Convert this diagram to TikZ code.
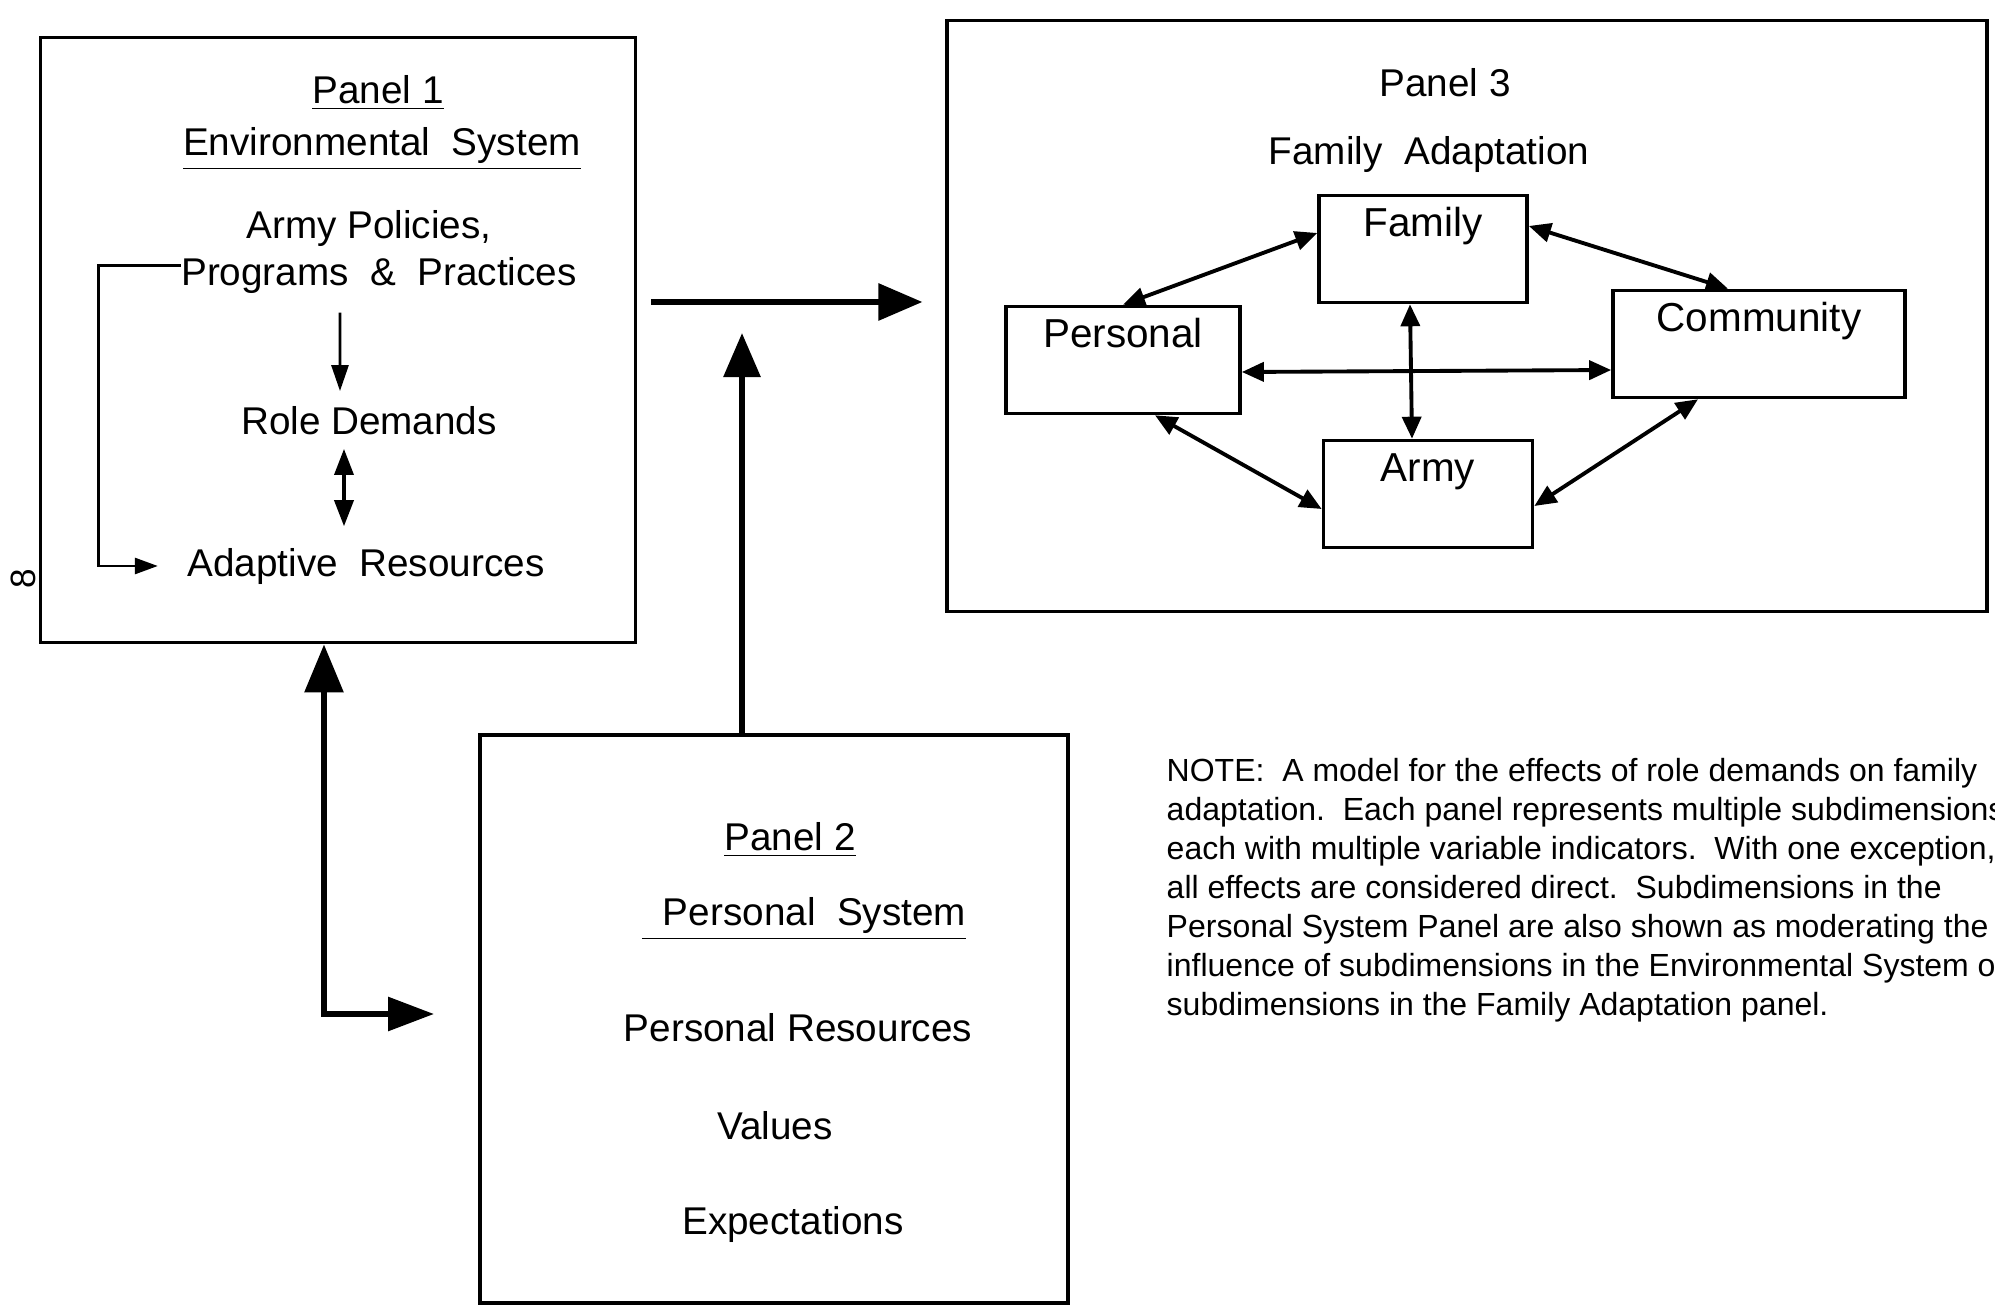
\documentclass[tikz,border=0pt]{standalone}
\usepackage{fontspec}
\setmainfont{Liberation Sans}
\usetikzlibrary{arrows.meta}

\tikzset{
  panel/.style={draw, line width=1pt},
  sub/.style={draw, line width=1pt, minimum height=1.07cm, text height=0.31cm,
    text depth=0.56cm, inner ysep=0.1cm, font=\fontsize{11.5}{13}\selectfont},
  lbl/.style={inner sep=0pt, font=\fontsize{11}{13}\selectfont},
  note/.style={inner sep=0pt, align=left, font=\fontsize{9.1}{11.05}\selectfont},
  bigarr/.style={line width=1.7pt, -{Triangle[length=4.4mm,width=3.6mm]}},
  twoway/.style={line width=1.1pt, {Triangle[length=2.2mm,width=1.9mm]}-{Triangle[length=2.2mm,width=1.9mm]}},
}

\begin{document}
\begin{tikzpicture}[x=0.01cm, y=-0.01cm]
\useasboundingbox (0,0) rectangle (1995,1307);

% the three panels
\node[panel, minimum width=5.95cm, minimum height=6.05cm] (p1) at (338,340) {};
\node[panel, minimum width=10.39cm, minimum height=5.91cm] (p3) at (1467,316) {};
\node[panel, minimum width=5.88cm, minimum height=5.68cm] (p2) at (774,1019) {};

% panel 1
\node[lbl] (t1) at (378,93) {\underline{Panel 1}};
\node[lbl] (env) at (382,149) {\underline{Environmental\ \ System}};
\node[lbl] (pol) at (369,229) {Army Policies,};
\node[lbl] (prog) at (379,276) {Programs\ \ \&\ \ Practices};
\node[lbl] (role) at (369,421) {Role Demands};
\node[lbl] (adapt) at (366,566) {Adaptive\ \ Resources};

\draw[line width=0.8pt, -{Triangle[length=2.6mm,width=1.7mm]}, shorten <=1.8mm, shorten >=1.5mm]
  ([xshift=-3.9mm]prog.south) -- ([xshift=-2.9mm]role.north);
\draw[line width=1pt, {Triangle[length=2.6mm,width=1.9mm]}-{Triangle[length=2.6mm,width=1.9mm]}, shorten <=1.3mm, shorten >=2.1mm]
  ([xshift=-2.5mm]role.south) -- ([xshift=-2.2mm]adapt.north);
\draw[line width=0.8pt, -{Triangle[length=2.3mm,width=1.6mm]}, shorten >=2.9mm]
  ([yshift=-0.8mm]prog.north west) -- ++(-82,0) |- (adapt.west);

% panel 2
\node[lbl] (t2) at (790,840) {\underline{Panel 2}};
\node[lbl] (pers2) at (804,919) {\underline{\hspace{6pt}Personal\ \ System}};
\node[lbl] (res) at (798,1028) {Personal Resources};
\node[lbl] (val) at (775,1126) {Values};
\node[lbl] (exp) at (793,1224) {Expectations};

% panel 3
\node[lbl] (t3) at (1445,83) {Panel 3};
\node[lbl] (fa) at (1429,155) {Family\ \ Adaptation};
\node[sub, minimum width=2.08cm] (fam) at (1423,249) {Family};
\node[sub, minimum width=2.34cm] (pers) at (1123,360) {Personal};
\node[sub, minimum width=2.92cm] (comm) at (1759,344) {Community};
\node[sub, minimum width=2.09cm] (army) at (1428,494) {Army};

\draw[twoway] ([yshift=1.6mm]fam.west) -- (pers.north);
\draw[twoway] ([yshift=2.3mm]fam.east) -- ([xshift=-3.1mm]comm.north);
\draw[twoway] ([xshift=-1.3mm]fam.south) -- ([xshift=-1.6mm]army.north);
\draw[twoway] ([yshift=-1.2mm]pers.east) -- ([yshift=-2.6mm]comm.west);
\draw[twoway] ([xshift=3.2mm]pers.south) -- ([yshift=-1.5mm]army.west);
\draw[twoway] ([xshift=-6.1mm]comm.south) -- ([yshift=-1.2mm]army.east);

% links between the panels
\coordinate (join) at (742,302);
\coordinate (bend) at (324,1014);
\draw[bigarr, shorten <=1.4mm, shorten >=2.3mm] (p1.east |- join) -- (p3.west |- join);
\draw[bigarr, shorten >=3.1mm] (p2.north -| join) -- (join);
\draw[line width=1.7pt, {Triangle[length=4.8mm,width=3.8mm]}-{Triangle[length=4.6mm,width=3.3mm]}, shorten >=4.4mm]
  (p1.south -| bend) -- (bend) -- (p2.west |- bend);

% note
\node[note, anchor=north west] (nt) at (1166,758) {NOTE:\ \ A model for the effects of role demands on family\\
adaptation.\ \ Each panel represents multiple subdimensions,\\
each with multiple variable indicators.\ \ With one exception,\\
all effects are considered direct.\ \ Subdimensions in the\\
Personal System Panel are also shown as moderating the\\
influence of subdimensions in the Environmental System on\\
subdimensions in the Family Adaptation panel.};

\node[rotate=90, font=\fontsize{10}{12}\selectfont] (pgno) at (23,579) {8};
\end{tikzpicture}
\end{document}
